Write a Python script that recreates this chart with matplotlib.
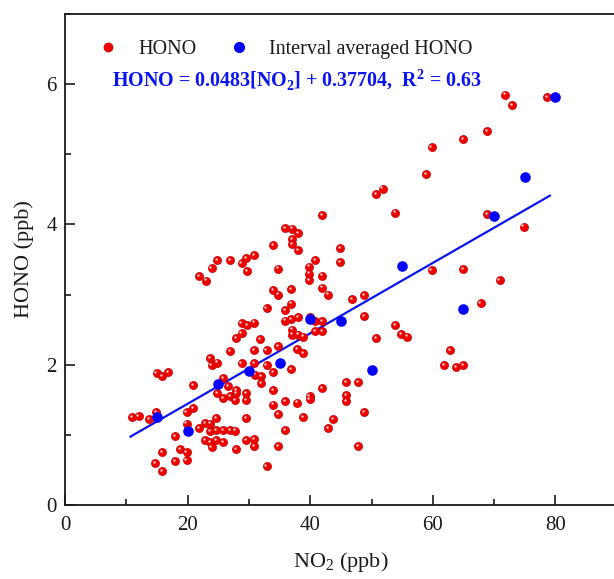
import numpy as np
import matplotlib
matplotlib.use("Agg")
import matplotlib.pyplot as plt
from matplotlib.lines import Line2D
from matplotlib.ticker import MultipleLocator
import matplotlib.transforms as mtransforms

plt.rcParams['font.family'] = ['Liberation Serif', 'DejaVu Serif']
plt.rcParams['mathtext.fontset'] = 'custom'
plt.rcParams['mathtext.rm'] = 'Liberation Serif'
plt.rcParams['mathtext.bf'] = 'Liberation Serif:bold'

# ---- data ----
hono_no2 = [10.9, 12.0, 13.75, 14.8, 14.95, 15.9, 16.8, 14.7, 15.8, 15.8,
            17.9, 17.9, 18.8, 19.85, 19.85, 19.85, 20.9, 19.85, 20.9, 21.9,
            22.8, 23.7, 24.7, 23.7, 24.7, 25.8, 26.9, 27.7, 22.8, 23.7,
            24.7, 25.8, 23.9, 27.9, 24.8, 25.8, 26.9, 27.9, 27.7, 29.6,
            29.6, 29.6, 29.6, 26.6, 27.9, 23.7, 23.9, 24.8, 26.9, 28.8,
            25.8, 21.9, 23.0, 23.9, 24.8, 26.9, 28.8, 29.6, 29.7, 28.8,
            29.7, 28.8, 27.9, 35.9, 37.0, 38.0, 37.0, 37.0, 38.0, 34.0,
            44.9, 44.9, 41.9, 30.9, 34.8, 39.8, 40.8, 39.8, 39.8, 41.9,
            41.9, 42.9, 33.9, 34.8, 36.9, 32.9, 35.9, 36.9, 36.9, 35.9,
            38.0, 46.9, 48.8, 48.8, 30.9, 37.0, 38.0, 38.9, 40.0, 40.8,
            41.9, 40.8, 41.9, 50.8, 31.8, 30.9, 32.9, 34.8, 37.8, 38.9,
            30.9, 32.9, 31.0, 32.0, 32.0, 33.9, 36.9, 33.9, 35.9, 37.8,
            33.9, 39.9, 39.9, 41.9, 45.8, 47.8, 45.8, 45.8, 34.8, 38.9,
            43.8, 42.9, 48.8, 35.9, 30.9, 30.9, 34.8, 47.8, 32.9, 71.8,
            72.9, 78.7, 68.8, 64.9, 59.8, 58.9, 50.8, 51.8, 53.8, 68.8,
            74.8, 59.8, 64.9, 70.9, 67.8, 53.8, 54.8, 55.8, 62.8, 61.9,
            63.8, 64.9, 37.0]
hono_val = [1.25, 1.27, 1.22, 1.32, 1.88, 1.84, 1.90, 0.60, 0.48, 0.75,
            0.98, 0.63, 0.80, 0.75, 0.64, 1.33, 1.38, 1.16, 1.71, 1.10,
            1.17, 1.16, 1.24, 1.05, 1.07, 1.07, 1.07, 1.06, 0.93, 0.90,
            0.93, 0.90, 0.83, 0.80, 1.60, 1.52, 1.55, 1.60, 1.50, 1.60,
            1.50, 1.24, 0.93, 1.69, 1.64, 2.10, 2.00, 2.03, 2.19, 2.02,
            1.81, 3.26, 3.20, 3.38, 3.49, 3.49, 3.45, 3.52, 3.33, 2.59,
            2.56, 2.45, 2.38, 3.95, 3.94, 3.88, 3.79, 3.72, 3.63, 3.70,
            3.66, 3.46, 4.13, 3.56, 3.37, 3.40, 3.49, 3.30, 3.21, 3.27,
            3.10, 3.00, 3.06, 3.00, 3.08, 2.81, 2.78, 2.87, 2.65, 2.63,
            2.68, 2.94, 2.99, 2.69, 2.60, 2.43, 2.43, 2.40, 2.68, 2.62,
            2.62, 2.48, 2.48, 2.38, 2.36, 2.21, 2.21, 2.26, 2.22, 2.16,
            2.02, 2.00, 1.86, 1.84, 1.74, 1.89, 1.94, 1.64, 1.48, 1.46,
            1.43, 1.55, 1.51, 1.67, 1.75, 1.75, 1.57, 1.48, 1.30, 1.25,
            1.23, 1.10, 1.32, 1.07, 0.94, 0.84, 0.84, 0.84, 0.55, 5.85,
            5.70, 5.81, 5.33, 5.22, 5.10, 4.72, 4.43, 4.51, 4.17, 4.15,
            3.97, 3.35, 3.36, 3.21, 2.88, 2.56, 2.44, 2.40, 2.21, 1.99,
            1.97, 1.99, 2.50]

avg_no2 = [15, 20, 25, 30, 35, 40, 45, 50, 55, 65, 70, 75, 80]
avg_hono = [1.25, 1.06, 1.72, 1.91, 2.03, 2.65, 2.63, 1.92, 3.41, 2.79, 4.12, 4.68, 5.81]

fit_x_range = [10.7, 79.1]
fit_slope = 0.0502
fit_intercept = 0.439

eq_text = r'HONO = 0.0483[NO$_\mathbf{2}$] + 0.37704,  R$^\mathbf{2}$ = 0.63'

# ---- figure ----
fig = plt.figure(figsize=(6.14, 5.79), dpi=100)
ax = fig.add_axes([65/614, 74/579, 551.7/614, 491/579])

fx = np.array(fit_x_range)
ax.plot(fx, fit_slope * fx + fit_intercept, color='#0a14f0', lw=1.6, zorder=2)

ax.scatter(hono_no2, hono_val, s=34, color='#f20000', edgecolors='#c00000',
           linewidths=0.5, zorder=3)
hl = mtransforms.offset_copy(ax.transData, fig=fig, x=-1.2, y=1.2, units='dots')
ax.scatter(hono_no2, hono_val, s=3, color='#ffd0d0', linewidths=0,
           transform=hl, zorder=4)
ax.scatter(avg_no2, avg_hono, s=58, color='#0000ff', linewidths=0, zorder=5)

ax.set_xlim(0, 90)
ax.set_ylim(0, 7)
ax.xaxis.set_major_locator(MultipleLocator(20))
ax.xaxis.set_minor_locator(MultipleLocator(10))
ax.yaxis.set_major_locator(MultipleLocator(2))
ax.yaxis.set_minor_locator(MultipleLocator(1))
ax.tick_params(which='both', direction='in', width=1.2, labelsize=15,
               colors='#1a1a1a')
ax.tick_params(which='major', length=7)
ax.tick_params(which='minor', length=4)
ax.tick_params(axis='x', pad=8)
ax.tick_params(axis='y', pad=6)
for s in ax.spines.values():
    s.set_linewidth(1.3)
    s.set_color('#1a1a1a')

ax.set_xlabel(r'NO$_2$ (ppb)', fontsize=16, labelpad=11, color='#1a1a1a')
ax.set_ylabel('HONO (ppb)', fontsize=16, labelpad=9, color='#1a1a1a')

h_red = Line2D([], [], ls='none', marker='o', markersize=6.5,
               markerfacecolor='#f20000', markeredgecolor='#c00000', markeredgewidth=0.5)
h_blue = Line2D([], [], ls='none', marker='o', markersize=8,
                markerfacecolor='#0000ff', markeredgewidth=0)
leg = ax.legend([h_red, h_blue], ['HONO', 'Interval averaged HONO'],
                ncol=2, frameon=False, loc='upper left',
                bbox_to_anchor=(0.027, 0.985), fontsize=14.5,
                handletextpad=1.0, columnspacing=1.6, handlelength=1.0)
for t in leg.get_texts():
    t.set_color('#1a1a1a')

ax.text(0.085, 0.866, eq_text, transform=ax.transAxes, color='#0a14f0',
        fontsize=14.4, fontweight='bold', va='center', ha='left')

fig.savefig('out.png', dpi=100)
